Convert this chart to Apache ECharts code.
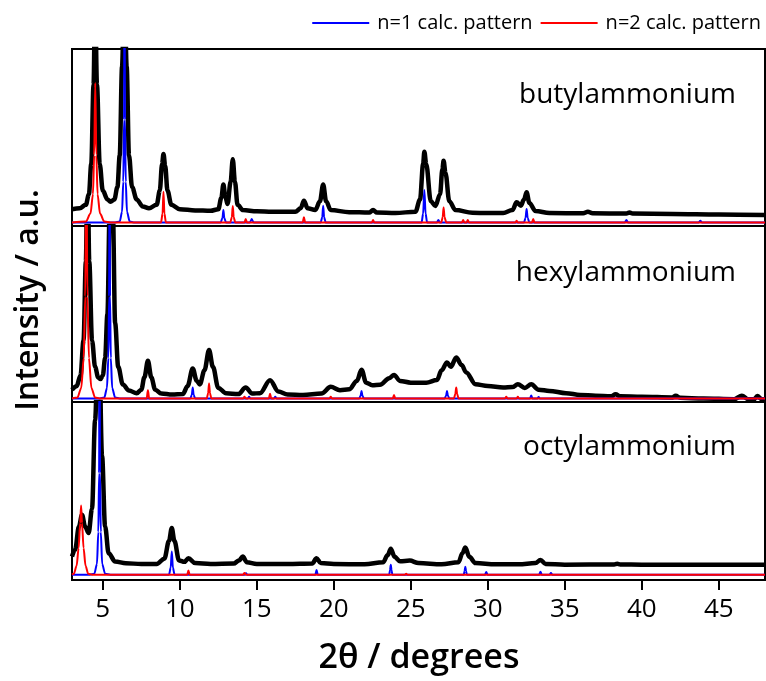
<!DOCTYPE html>
<html>
<head>
<meta charset="utf-8">
<script src="https://cdn.jsdelivr.net/npm/echarts@6/dist/echarts.min.js"></script>
<style>html,body{margin:0;padding:0;background:#fff;}#c{width:766px;height:681px;}</style>
</head>
<body>
<div id="c"></div>
<script>
// ---- data (2θ in degrees, intensity as % of each panel height) ----
const panelNames = ['butylammonium', 'hexylammonium', 'octylammonium'];
const xTicks = [5, 10, 15, 20, 25, 30, 35, 40, 45];

const butylExp = [[3.0,9.5],[3.5,10],[3.9,12],[4.1,18],[4.25,35],[4.4,80],[4.5,130],[4.62,80],[4.8,35],[5.0,20],[5.3,15],[5.5,13.7],[5.75,15],[5.95,22],[6.1,40],[6.25,90],[6.4,140],[6.55,90],[6.7,40],[6.9,22],[7.2,15],[7.6,11],[8.0,10],[8.5,12],[8.7,20],[8.85,35],[8.94,40.7],[9.05,34],[9.2,20],[9.45,12],[10,9.5],[11,8.8],[12,8.6],[12.5,9.5],[12.7,16],[12.83,23.5],[12.95,17],[13.1,12.4],[13.3,25],[13.44,37.7],[13.58,25],[13.75,12],[14.1,9],[15,8.3],[16,8],[17.5,8],[17.85,10],[18.06,14.3],[18.3,10],[18.8,9],[19.1,14],[19.31,23.5],[19.5,14],[19.8,9],[21,7.8],[22.3,7.6],[22.55,9],[22.8,7.6],[24,7.4],[25.3,8],[25.6,15],[25.8,35],[25.88,42],[26.0,35],[26.3,14],[26.6,11.3],[26.9,18],[27.05,32],[27.13,36.9],[27.25,30],[27.5,14],[27.9,9],[29,7.5],[30,7.3],[31,7.4],[31.6,9],[31.87,13.4],[32.15,11.5],[32.35,15],[32.52,19],[32.7,13],[33.1,8.5],[34,7.3],[36.2,7.2],[36.5,8],[36.8,7.2],[39.0,7],[39.2,7.6],[39.4,7],[42,6.8],[45,6.5],[48,6.2]];
const butylN1 = [[3.0,2],[5.8,2],[6.1,2.5],[6.25,8],[6.33,25],[6.38,60],[6.41,150],[6.44,60],[6.49,25],[6.57,8],[6.75,2.5],[7.0,2],[12.65,2],[12.77,4.5],[12.83,9],[12.89,4.5],[13.0,2],[14.55,2],[14.62,3],[14.67,4],[14.72,3],[14.8,2],[19.15,2],[19.25,5],[19.31,11.5],[19.37,5],[19.47,2],[25.7,2],[25.8,7],[25.88,20.3],[25.96,7],[26.06,2],[26.7,2],[26.79,3.4],[26.88,2],[32.35,2],[32.45,4.5],[32.52,9.6],[32.59,4.5],[32.7,2],[38.9,2],[39.0,3.4],[39.1,2],[43.7,2],[43.8,3],[43.9,2],[48,2]];
const butylN2 = [[3.0,2],[3.9,2.5],[4.2,7],[4.36,18],[4.44,40],[4.51,80.8],[4.58,40],[4.66,18],[4.82,7],[5.1,2.5],[5.5,2],[8.78,2],[8.88,7],[8.94,19.4],[9.0,7],[9.1,2],[13.28,2],[13.38,5],[13.44,11.3],[13.5,5],[13.6,2],[14.2,2],[14.28,4],[14.36,2],[17.98,2],[18.06,5],[18.14,2],[22.47,2],[22.55,3.4],[22.63,2],[26.98,2],[27.07,5],[27.13,10.5],[27.19,5],[27.3,2],[28.32,2],[28.4,3.4],[28.48,2],[28.62,2],[28.7,3.4],[28.78,2],[31.8,2],[31.87,3],[31.94,2],[32.87,2],[32.95,4],[33.03,2],[48,2]];

const hexylExp = [[3.0,7],[3.3,9],[3.55,15],[3.75,35],[3.9,80],[4.01,140],[4.12,80],[4.3,35],[4.5,20],[4.7,14],[4.85,13],[5.0,15],[5.15,25],[5.3,50],[5.45,110],[5.55,150],[5.65,110],[5.8,45],[6.0,20],[6.3,10],[6.7,6.5],[7.2,5],[7.5,7],[7.7,14],[7.93,23.4],[8.15,14],[8.4,7],[8.8,4.8],[9.5,4.2],[10.2,4.5],[10.5,9],[10.84,19],[11.1,12],[11.3,10],[11.6,18],[11.9,29.5],[12.15,20],[12.5,8],[13,5],[13.8,4.5],[14.28,8.2],[14.7,4.8],[15.2,5],[15.86,12.4],[16.4,6],[17,4.3],[18,4],[19.2,4.8],[19.8,8.6],[20.4,6.7],[21.0,7.2],[21.5,12],[21.8,18.3],[22.1,11],[22.5,9.5],[23.0,9.8],[23.6,13.5],[23.91,15.4],[24.3,12],[25.0,11],[26.0,11],[26.7,12.5],[27.0,18],[27.35,22.5],[27.6,20],[27.95,25.3],[28.3,21],[28.6,16.8],[29.2,10.1],[30.0,9.1],[31.0,8.2],[31.6,8.5],[31.95,10.1],[32.4,8],[32.82,10.1],[33.3,7],[34.0,6.3],[35.08,5],[36,4],[37,3.6],[38.0,3.2],[38.3,4.4],[38.6,3.2],[40,3],[42.0,2.6],[42.2,3.6],[42.5,2.4],[44,2],[46,1.6],[46.5,3.6],[46.9,1.6],[47.3,1.5],[47.5,3.4],[47.8,1.5],[48,1.4]];
const hexylN1 = [[3.0,2],[4.8,2],[5.1,2.5],[5.27,8],[5.36,25],[5.41,60],[5.44,150],[5.47,60],[5.52,25],[5.61,8],[5.8,2.5],[6.1,2],[10.68,2],[10.78,4],[10.84,8.2],[10.9,4],[11.0,2],[14.42,2],[14.5,3],[14.58,2],[16.12,2],[16.2,3],[16.28,2],[21.65,2],[21.74,3.5],[21.8,6.3],[21.86,3.5],[21.95,2],[27.2,2],[27.29,3.5],[27.35,6.3],[27.41,3.5],[27.5,2],[32.74,2],[32.82,3.7],[32.9,2],[33.22,2],[33.3,2.8],[33.38,2],[48,2]];
const hexylN2 = [[3.0,2],[3.35,2.5],[3.6,8],[3.76,25],[3.86,60],[3.93,150],[4.0,60],[4.1,25],[4.26,8],[4.5,2.5],[4.8,2],[7.85,2],[7.93,6.7],[8.01,2],[11.75,2],[11.84,5],[11.9,10.5],[11.96,5],[12.05,2],[14.12,2],[14.2,3],[14.28,2],[15.78,2],[15.86,4.7],[15.94,2],[19.72,2],[19.8,3],[19.88,2],[23.83,2],[23.91,4],[23.99,2],[27.8,2],[27.89,4.5],[27.95,8.2],[28.01,4.5],[28.1,2],[31.12,2],[31.2,3],[31.28,2],[31.87,2],[31.95,3],[32.03,2],[48,2]];

const octylExp = [[3.0,13.2],[3.2,17],[3.45,30],[3.65,36.7],[3.85,30],[4.08,26.4],[4.3,40],[4.5,90],[4.73,150],[4.95,70],[5.15,30],[5.38,15],[5.8,10.4],[6.5,9.4],[7.5,9],[8.5,9],[9.0,12],[9.3,22],[9.48,29.2],[9.65,22],[9.95,11],[10.3,10.2],[10.56,12.2],[11.0,9.5],[12,9],[13.5,9.2],[13.85,11],[14.09,13.2],[14.35,10],[15,9],[17,9],[18.6,9.3],[18.88,12.2],[19.15,9.5],[20,9],[22,8.8],[23.2,10],[23.5,14],[23.7,17.5],[23.95,13],[24.3,10.5],[24.93,10.9],[25.5,9.5],[27,8.8],[28.1,10],[28.35,15],[28.54,18.3],[28.8,13],[29.2,9.5],[30.5,8.8],[32,8.8],[33.1,9.5],[33.42,11.3],[33.75,9],[35,8.6],[38.2,8.7],[38.4,9.1],[38.6,8.7],[40,8.6],[45,8.5],[48,8.5]];
const octylN1 = [[3.0,3],[4.15,3],[4.45,3.5],[4.62,9],[4.71,27],[4.76,60],[4.79,150],[4.82,60],[4.87,27],[4.96,9],[5.15,3.5],[5.5,3],[9.3,3],[9.41,7],[9.48,16],[9.55,7],[9.66,3],[14.22,3],[14.3,3.8],[14.38,3],[18.8,3],[18.88,5.6],[18.96,3],[23.6,3],[23.65,5.5],[23.7,8.5],[23.75,5.5],[23.8,3],[28.44,3],[28.49,5],[28.54,7.5],[28.59,5],[28.64,3],[29.82,3],[29.9,4.5],[29.98,3],[33.34,3],[33.42,4.7],[33.5,3],[34.02,3],[34.1,4],[34.18,3],[48,3]];
const octylN2 = [[3.0,3],[3.12,3.5],[3.3,8],[3.43,18],[3.53,32],[3.59,41.8],[3.65,32],[3.75,18],[3.88,8],[4.05,3.5],[4.3,3],[10.48,3],[10.56,5.3],[10.64,3],[14.12,3],[14.2,4],[14.28,3],[24.62,3],[24.7,3.5],[24.78,3],[48,3]];

const expData = [butylExp, hexylExp, octylExp];
const n1Data = [butylN1, hexylN1, octylN1];
const n2Data = [butylN2, hexylN2, octylN2];

// ---- chart ----
const FONT = '"Open Sans", "Noto Sans", sans-serif';
const grids = [
  {left: 72, right: 1, top: 49, height: 177},
  {left: 72, right: 1, top: 226, height: 176},
  {left: 72, right: 1, top: 402, height: 178}
].map(g => Object.assign(g, {show: true, borderColor: '#000', borderWidth: 2, backgroundColor: 'transparent'}));

const xAxes = [0,1,2].map(i => ({
  type: 'value', gridIndex: i, min: 3, max: 48,
  axisLine: {show: false},
  splitLine: {show: false},
  axisTick: i === 2 ? {show: true, inside: false, length: 10, customValues: xTicks, lineStyle: {color: '#000', width: 2}} : {show: false},
  axisLabel: i === 2 ? {show: true, customValues: xTicks, color: '#000', fontSize: 26, fontFamily: FONT, margin: 17} : {show: false}
}));
const yAxes = [0,1,2].map(i => ({type: 'value', gridIndex: i, min: 0, max: 100, show: false}));

const series = [];
for (let i = 0; i < 3; i++) {
  series.push({type: 'line', name: panelNames[i], xAxisIndex: i, yAxisIndex: i, data: expData[i], showSymbol: false, symbol: 'none', clip: true, z: 2, smooth: 0.35, smoothMonotone: 'x', lineStyle: {color: '#000', width: 4.5, join: 'round'}, itemStyle: {color: '#000'}});
  series.push({type: 'line', name: 'n=1 calc. pattern', xAxisIndex: i, yAxisIndex: i, data: n1Data[i], showSymbol: false, symbol: 'none', clip: true, z: 3, smooth: 0.3, smoothMonotone: 'x', lineStyle: {color: '#0000ff', width: 2}, itemStyle: {color: '#0000ff'}});
  series.push({type: 'line', name: 'n=2 calc. pattern', xAxisIndex: i, yAxisIndex: i, data: n2Data[i], showSymbol: false, symbol: 'none', clip: true, z: 4, smooth: 0.3, smoothMonotone: 'x', lineStyle: {color: '#ff0000', width: 2}, itemStyle: {color: '#ff0000'}});
}

const chart = echarts.init(document.getElementById('c'));
chart.setOption({
  animation: false,
  backgroundColor: '#fff',
  grid: grids,
  xAxis: xAxes,
  yAxis: yAxes,
  legend: {
    data: ['n=1 calc. pattern', 'n=2 calc. pattern'],
    right: 0, top: 8, icon: 'rect', itemWidth: 57, itemHeight: 2, itemGap: 8,
    textStyle: {color: '#000', fontSize: 20, fontFamily: FONT, padding: [0, 0, 0, 3]}
  },
  title: panelNames.map((n, i) => ({
    text: n, right: 25, top: [76, 254, 428][i],
    textStyle: {color: '#000', fontSize: 28, fontWeight: 'normal', fontFamily: FONT}
  })),
  graphic: [
    {type: 'text', x: 419, y: 658, style: {text: '2θ / degrees', font: '600 34px ' + FONT, fill: '#000', textAlign: 'center', textVerticalAlign: 'middle'}},
    {type: 'text', x: 29, y: 300, rotation: Math.PI / 2, style: {text: 'Intensity / a.u.', font: '600 32px ' + FONT, fill: '#000', textAlign: 'center', textVerticalAlign: 'middle'}}
  ],
  series: series
});
</script>
</body>
</html>
